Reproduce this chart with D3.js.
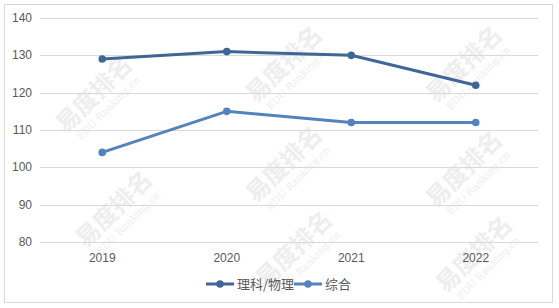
<!DOCTYPE html>
<html>
<head>
<meta charset="utf-8">
<script src="https://cdn.jsdelivr.net/npm/d3@7"></script>
<style>
  body { margin: 0; background: #fff; }
  text { font-family: "Liberation Sans", "Noto Sans CJK SC", sans-serif; }
</style>
</head>
<body>
<div id="chart"></div>
<script>
const years = ["2019", "2020", "2021", "2022"];
const seriesNames = ["理科/物理", "综合"];
const physicsScores = [129, 131, 130, 122];
const generalScores = [104, 115, 112, 112];
const yTicks = [80, 90, 100, 110, 120, 130, 140];
const colors = ["#3f6696", "#5383bf"];

const width = 559, height = 308;
const margin = { top: 18, right: 21, bottom: 66, left: 40 };

const svg = d3.select("#chart").append("svg")
  .attr("width", width)
  .attr("height", height);

// outer frame
svg.append("rect")
  .attr("x", 4.5).attr("y", 4.5)
  .attr("width", 548).attr("height", 298)
  .attr("fill", "#fff")
  .attr("stroke", "#d9d9d9");

// faint watermarks
const marks = [[100, 100], [290, 70], [470, 70], [290, 170], [470, 175], [120, 215], [300, 255], [480, 260]];
const wm = svg.append("g").attr("fill", "#eeeeee");
marks.forEach(([x, y]) => {
  const g = wm.append("g").attr("transform", `translate(${x},${y}) rotate(-45)`);
  g.append("text").attr("text-anchor", "middle").attr("y", 0)
    .style("font-size", "24px").style("font-weight", "bold")
    .style("font-family", "Noto Sans CJK SC").text("易度排名");
  g.append("text").attr("text-anchor", "middle").attr("y", 15)
    .style("font-size", "10px").style("font-family", "DejaVu Serif")
    .text("EDU Ranking.cn");
});

const x = d3.scaleBand()
  .domain(years)
  .range([margin.left, width - margin.right]);

const y = d3.scaleLinear()
  .domain([80, 140])
  .range([height - margin.bottom, margin.top]);

// gridlines
svg.append("g")
  .selectAll("line")
  .data(yTicks)
  .join("line")
  .attr("x1", margin.left)
  .attr("x2", width - margin.right)
  .attr("y1", d => Math.round(y(d)) + 0.5)
  .attr("y2", d => Math.round(y(d)) + 0.5)
  .attr("stroke", "#d9d9d9");

// y labels
svg.append("g")
  .selectAll("text")
  .data(yTicks)
  .join("text")
  .attr("x", 32)
  .attr("y", d => y(d) + 4)
  .attr("text-anchor", "end")
  .attr("fill", "#595959")
  .style("font-size", "12px")
  .text(d => d);

// x labels
svg.append("g")
  .selectAll("text")
  .data(years)
  .join("text")
  .attr("x", d => x(d) + x.bandwidth() / 2)
  .attr("y", height - margin.bottom + 20)
  .attr("text-anchor", "middle")
  .attr("fill", "#595959")
  .style("font-size", "12px")
  .text(d => d);

const line = d3.line()
  .x((d, i) => x(years[i]) + x.bandwidth() / 2)
  .y(d => y(d));

[physicsScores, generalScores].forEach((vals, k) => {
  svg.append("path")
    .datum(vals)
    .attr("d", line)
    .attr("fill", "none")
    .attr("stroke", colors[k])
    .attr("stroke-width", 3)
    .attr("stroke-linejoin", "round")
    .attr("stroke-linecap", "round");

  svg.append("g")
    .selectAll("circle")
    .data(vals)
    .join("circle")
    .attr("cx", (d, i) => x(years[i]) + x.bandwidth() / 2)
    .attr("cy", d => y(d))
    .attr("r", 3.8)
    .attr("fill", colors[k]);
});

// legend
const legendItems = [
  { name: seriesNames[0], x: 206, color: colors[0] },
  { name: seriesNames[1], x: 294, color: colors[1] }
];
const legend = svg.append("g").attr("transform", "translate(0,284)");
legendItems.forEach(d => {
  legend.append("line")
    .attr("x1", d.x).attr("x2", d.x + 28)
    .attr("y1", 0).attr("y2", 0)
    .attr("stroke", d.color)
    .attr("stroke-width", 3);
  legend.append("circle")
    .attr("cx", d.x + 14).attr("cy", 0).attr("r", 3.8)
    .attr("fill", d.color);
  legend.append("text")
    .attr("x", d.x + 31)
    .attr("y", 5)
    .attr("fill", "#595959")
    .style("font-size", "13px")
    .style("font-family", "Noto Sans CJK SC")
    .text(d.name);
});
</script>
</body>
</html>
